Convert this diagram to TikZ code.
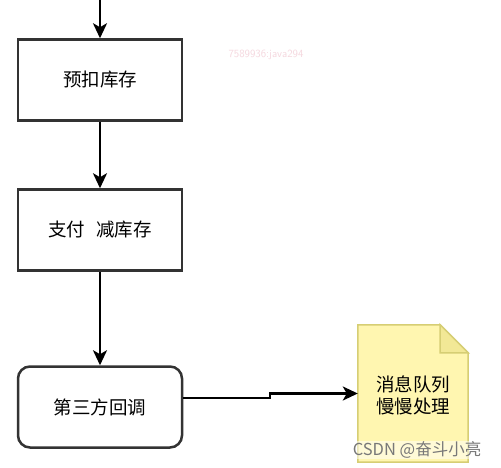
\documentclass[tikz,border=0pt]{standalone}
\usepackage{fontspec}
\usepackage{xcolor}
\usepackage{tikz}
\usetikzlibrary{arrows.meta}
\newfontfamily\cjk{Noto Sans CJK SC}
\definecolor{rob}{RGB}{51,51,51}
\definecolor{listfill}{RGB}{255,246,176}
\definecolor{listedge}{RGB}{214,206,116}
\definecolor{listfold}{RGB}{242,232,150}
\definecolor{vodni}{RGB}{245,215,222}
\definecolor{csdn}{RGB}{120,120,120}
\tikzset{
  korak/.style={draw=rob, line width=2.5pt, fill=white, minimum width=164pt,
    minimum height=81pt, inner sep=0pt, font=\cjk\fontsize{18.5}{22}\selectfont},
  puscica/.style={line width=2.5pt, -{Stealth[length=15pt,width=14pt,inset=4pt]}}
}

\begin{document}
\begin{tikzpicture}[x=1pt,y=-1pt]
  \useasboundingbox (0,0) rectangle (501,468);
  \fill[white] (0,0) rectangle (501,468);

  % vodni zig
  \node[text=vodni, font=\sffamily\fontsize{11}{12}\selectfont] (zig) at (266,55) {7589936:java294};

  % koraki
  \coordinate (start) at (100,0);
  \node[korak] (yukou) at (100,80) {预扣库存};
  \node[korak] (zhifu) at (100,230) {支付\hspace{0.6em}减库存};
  \node[korak, rounded corners=12pt] (huidiao) at (100,407) {第三方回调};

  % list (sporočilo)
  \node[minimum width=110pt, minimum height=137pt, inner sep=0pt] (xiaoxi) at (413,393.5) {};
  \fill[listfill, draw=listedge, line width=1.5pt] (xiaoxi.north west) -- ([xshift=-28pt]xiaoxi.north east)
    -- ([yshift=-28pt]xiaoxi.north east) -- (xiaoxi.south east) -- (xiaoxi.south west) -- cycle;
  \fill[listfold, draw=listedge, line width=1.5pt] ([xshift=-28pt]xiaoxi.north east)
    -- ([xshift=-28pt,yshift=-28pt]xiaoxi.north east) -- ([yshift=-28pt]xiaoxi.north east) -- cycle;
  \node[font=\cjk\fontsize{18.5}{22}\selectfont, align=center] (xiaoxitext) at ([yshift=-2pt]xiaoxi.center) {消息队列\\慢慢处理};

  % povezave
  \draw[puscica] (start) -- (yukou.north);
  \draw[puscica] (yukou.south) -- (zhifu.north);
  \draw[puscica] (zhifu.south) -- (huidiao.north);
  \draw[puscica] ([yshift=9pt]huidiao.east) -- (270,398) -- (270,393.5) -- (xiaoxi.west);

  % CSDN
  \node[text=csdn, font=\cjk\fontsize{16.5}{18}\selectfont, fill=white, fill opacity=0.5, text opacity=1,
    inner sep=1pt] (csdnoznaka) at (417,450) {CSDN @奋斗小亮};
\end{tikzpicture}
\end{document}
